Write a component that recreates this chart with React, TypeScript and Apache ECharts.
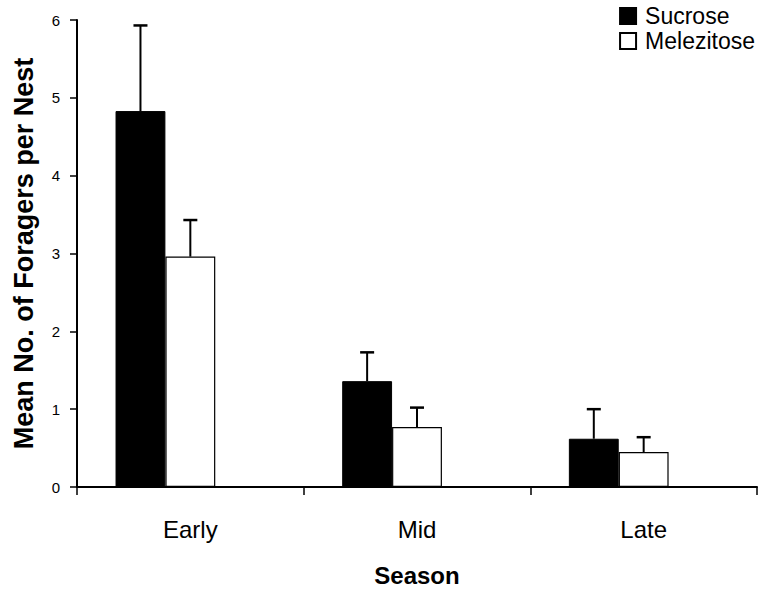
import React, { useEffect, useRef } from "react";
import * as echarts from "echarts";

const categories = ["Early", "Mid", "Late"];
const sucroseMean = [4.83, 1.36, 0.62];
const sucroseUpper = [5.93, 1.73, 1.0];
const melezitoseMean = [2.96, 0.77, 0.45];
const melezitoseUpper = [3.43, 1.02, 0.64];
const yTicks = [0, 1, 2, 3, 4, 5, 6];

const FONT = "Liberation Sans, Arial, Helvetica, sans-serif";
const BAR_FRAC = 0.22;

export default function App() {
  const ref = useRef<HTMLDivElement>(null);
  useEffect(() => {
    if (!ref.current) return;
    const chart = echarts.init(ref.current, undefined, { renderer: "svg" });

    const errData = (means: number[], uppers: number[]) =>
      means.map((m, i) => [i, m, uppers[i]]);

    const makeErr = (offsetMult: number) => (params: any, api: any) => {
      const idx = api.value(0);
      const band = api.size([1, 0])[0];
      const bw = band * BAR_FRAC;
      const base = api.coord([idx, api.value(1)]);
      const top = api.coord([idx, api.value(2)]);
      const x = base[0] + offsetMult * bw;
      const cap = 7;
      return {
        type: "group",
        children: [
          {
            type: "line",
            shape: { x1: x, y1: base[1], x2: x, y2: top[1] },
            style: { stroke: "#000", lineWidth: 2 },
          },
          {
            type: "line",
            shape: { x1: x - cap, y1: top[1], x2: x + cap, y2: top[1] },
            style: { stroke: "#000", lineWidth: 2.5 },
          },
        ],
      };
    };

    chart.setOption({
      animation: false,
      backgroundColor: "#fff",
      textStyle: { fontFamily: FONT },
      grid: { left: 77, right: 9, top: 20, bottom: 104, containLabel: false },
      legend: {
        data: ["Sucrose", "Melezitose"],
        orient: "vertical",
        right: 6,
        top: 0,
        padding: [4, 5, 4, 5],
        itemWidth: 16,
        itemHeight: 16,
        itemGap: 1,
        icon: "rect",
        textStyle: {
          fontSize: 23,
          lineHeight: 24,
          color: "#000",
          fontFamily: FONT,
          padding: [0, 0, 0, 4],
        },
      },
      xAxis: {
        type: "category",
        data: categories,
        name: "Season",
        nameLocation: "middle",
        nameGap: 76,
        nameTextStyle: { fontSize: 24, fontWeight: "bold", color: "#000", fontFamily: FONT },
        axisLine: { lineStyle: { color: "#000", width: 2 } },
        axisTick: { show: true, length: 8, lineStyle: { color: "#000", width: 1.5 } },
        axisLabel: { fontSize: 24, color: "#000", margin: 30, fontFamily: FONT },
      },
      yAxis: {
        type: "value",
        min: 0,
        max: 6,
        interval: 1,
        name: "Mean No. of Foragers per Nest",
        nameLocation: "middle",
        nameRotate: 90,
        nameGap: 40,
        nameTextStyle: { fontSize: 27, fontWeight: "bold", color: "#000", fontFamily: FONT },
        axisLine: { show: true, lineStyle: { color: "#000", width: 2 } },
        axisTick: { show: true, length: 7, lineStyle: { color: "#000", width: 1.5 } },
        axisLabel: {
          fontSize: 15,
          color: "#000",
          margin: 17,
          fontFamily: FONT,
          formatter: (v: number) => (yTicks.includes(v) ? String(v) : ""),
        },
        splitLine: { show: false },
      },
      series: [
        {
          name: "Sucrose",
          type: "bar",
          data: sucroseMean,
          barWidth: BAR_FRAC * 100 + "%",
          barGap: "0%",
          itemStyle: { color: "#000", borderColor: "#000", borderWidth: 1 },
        },
        {
          name: "Melezitose",
          type: "bar",
          data: melezitoseMean,
          barWidth: BAR_FRAC * 100 + "%",
          barGap: "0%",
          itemStyle: { color: "#fff", borderColor: "#000", borderWidth: 1.2 },
        },
        {
          name: "spacer",
          type: "bar",
          data: ["-", "-", "-"],
          barWidth: BAR_FRAC * 100 + "%",
          barGap: "0%",
          itemStyle: { color: "transparent" },
        },
        {
          name: "errS",
          type: "custom",
          renderItem: makeErr(-1),
          data: errData(sucroseMean, sucroseUpper),
          encode: { x: 0, y: [1, 2] },
          z: 5,
        },
        {
          name: "errM",
          type: "custom",
          renderItem: makeErr(0),
          data: errData(melezitoseMean, melezitoseUpper),
          encode: { x: 0, y: [1, 2] },
          z: 5,
        },
      ],
    });
    return () => chart.dispose();
  }, []);
  return (
    <div
      ref={ref}
      style={{ position: "absolute", left: 0, top: 0, width: 766, height: 592 }}
    />
  );
}
